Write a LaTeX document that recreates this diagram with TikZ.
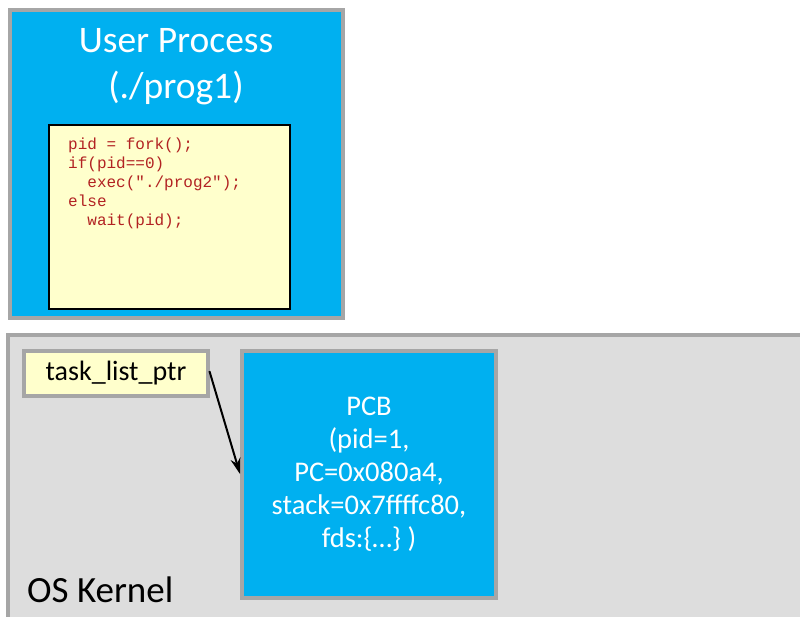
\documentclass[tikz,border=0pt]{standalone}
\usepackage{fontspec}
\setmainfont{Carlito}
\setmonofont{Liberation Mono}
\usetikzlibrary{arrows.meta}
\definecolor{procblue}{HTML}{00B0F0}
\definecolor{boxgray}{HTML}{A6A6A6}
\definecolor{kernelgray}{HTML}{DDDDDD}
\definecolor{noteyellow}{HTML}{FFFFCC}
\definecolor{codered}{HTML}{B22222}
\tikzset{
  panel/.style={draw=boxgray, line width=4pt},
  codebox/.style={draw=black, line width=1.5pt, fill=noteyellow},
  ptrbox/.style={panel, fill=noteyellow, minimum width=184pt, minimum height=45pt, inner sep=0pt, font=\fontsize{28}{32}\selectfont},
  pcbbox/.style={panel, fill=procblue, minimum width=254pt, minimum height=247pt, inner sep=0pt, text=white, align=center, font=\fontsize{28.5}{33}\selectfont},
  ptrarrow/.style={-{Stealth[length=16pt,width=10pt]}, line width=2pt, shorten <=-2pt}
}
\begin{document}
\begin{tikzpicture}[x=1pt,y=-1pt]
\useasboundingbox (0,0) rectangle (800,617);
\begin{scope}
\clip (0,0) rectangle (800,617);
% user process
\draw[panel, fill=procblue] (10,10) rectangle (343,318);
\node[text=white, align=center, font=\fontsize{37.5}{46}\selectfont] (title) at (176,67) {User Process\\(./prog1)};
\draw[codebox] (49,125) rectangle (290,309);
\node[anchor=north west, inner sep=0pt, text=codered, align=left, font=\ttfamily\fontsize{16}{19}\selectfont] (code) at (68,138)
  {pid = fork();\\if(pid==0)\\\ \ exec("./prog2");\\else\\\ \ wait(pid);};
% kernel
\draw[panel, fill=kernelgray] (8,335) rectangle (812,640);
\node[anchor=base west, inner sep=0pt, font=\fontsize{37}{40}\selectfont] (kernel) at (27,602) {OS Kernel};
\node[ptrbox] (tlp) at (116,373) {task\_list\_ptr};
\node[pcbbox] (pcb) at (369,474) {PCB\\(pid=1,\\PC=0x080a4,\\stack=0x7ffffc80,\\fds:\{…\} )};
\draw[ptrarrow] (tlp.east) -- (pcb.west);
\end{scope}
\end{tikzpicture}
\end{document}
